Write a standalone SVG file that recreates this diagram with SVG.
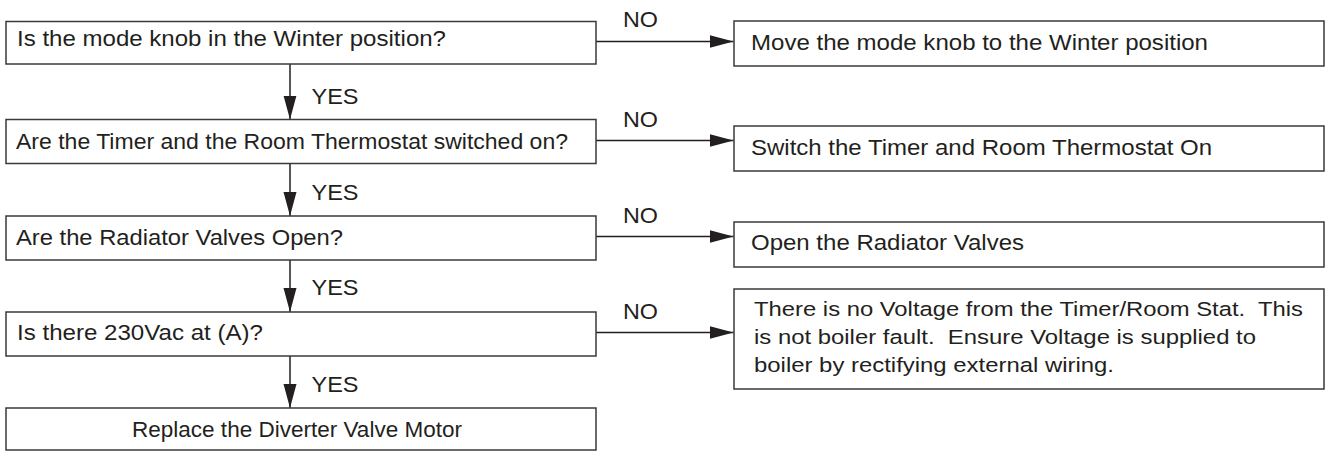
<svg xmlns="http://www.w3.org/2000/svg" width="1326" height="451" viewBox="0 0 1326 451">
  <style>
    .box { fill: #ffffff; stroke: #3a3a3a; stroke-width: 1.5; }
    .t { font-family: "Liberation Sans", Arial, sans-serif; font-size: 22px; fill: #231f20; }
    .t2 { font-family: "Liberation Sans", Arial, sans-serif; font-size: 20.5px; fill: #231f20; }
    .lbl { font-family: "Liberation Sans", Arial, sans-serif; font-size: 22px; fill: #231f20; }
    .conn { stroke: #231f20; stroke-width: 1.5; fill: none; marker-end: url(#arrow); }
  </style>
  <defs>
    <marker id="arrow" markerUnits="userSpaceOnUse" markerWidth="24" markerHeight="14" refX="24" refY="7" orient="auto">
      <path d="M0,0.5 L24,7 L0,13.5 z" fill="#231f20"/>
    </marker>
  </defs>
  <rect x="0" y="0" width="1326" height="451" fill="#ffffff"/>

  <g id="connectors">
    <line class="conn" x1="596" y1="41.5" x2="733.5" y2="41.5"/>
    <line class="conn" x1="596" y1="140.5" x2="733.5" y2="140.5"/>
    <line class="conn" x1="596" y1="236.5" x2="733.5" y2="236.5"/>
    <line class="conn" x1="596" y1="332.5" x2="733.5" y2="332.5"/>
    <line class="conn" x1="290" y1="64" x2="290" y2="119.5"/>
    <line class="conn" x1="290" y1="163.5" x2="290" y2="216"/>
    <line class="conn" x1="290" y1="260" x2="290" y2="312"/>
    <line class="conn" x1="290" y1="356" x2="290" y2="408"/>
    <text class="lbl" x="623" y="26.7" textLength="35" lengthAdjust="spacingAndGlyphs">NO</text>
    <text class="lbl" x="623" y="126.7" textLength="35" lengthAdjust="spacingAndGlyphs">NO</text>
    <text class="lbl" x="623" y="222.7" textLength="35" lengthAdjust="spacingAndGlyphs">NO</text>
    <text class="lbl" x="623" y="318.7" textLength="35" lengthAdjust="spacingAndGlyphs">NO</text>
    <text class="lbl" x="311.5" y="104" textLength="47" lengthAdjust="spacingAndGlyphs">YES</text>
    <text class="lbl" x="311.5" y="200" textLength="47" lengthAdjust="spacingAndGlyphs">YES</text>
    <text class="lbl" x="311.5" y="295" textLength="47" lengthAdjust="spacingAndGlyphs">YES</text>
    <text class="lbl" x="311.5" y="391.7" textLength="47" lengthAdjust="spacingAndGlyphs">YES</text>
  </g>

  <g id="q1">
    <rect class="box" x="6" y="21.5" width="590" height="42.5"/>
    <text class="t" x="17" y="46" textLength="429" lengthAdjust="spacingAndGlyphs">Is the mode knob in the Winter position?</text>
  </g>
  <g id="q2">
    <rect class="box" x="6" y="119.5" width="590" height="44"/>
    <text class="t" x="16" y="149.3" textLength="552" lengthAdjust="spacingAndGlyphs">Are the Timer and the Room Thermostat switched on?</text>
  </g>
  <g id="q3">
    <rect class="box" x="6" y="216" width="590" height="44"/>
    <text class="t" x="16" y="245" textLength="327" lengthAdjust="spacingAndGlyphs">Are the Radiator Valves Open?</text>
  </g>
  <g id="q4">
    <rect class="box" x="6" y="312" width="590" height="44"/>
    <text class="t" x="17" y="340" textLength="246" lengthAdjust="spacingAndGlyphs">Is there 230Vac at (A)?</text>
  </g>
  <g id="end">
    <rect class="box" x="6" y="408" width="590" height="42"/>
    <text class="t" x="132" y="436.7" textLength="330" lengthAdjust="spacingAndGlyphs">Replace the Diverter Valve Motor</text>
  </g>

  <g id="a1">
    <rect class="box" x="734" y="21" width="590" height="45"/>
    <text class="t" x="751" y="50" textLength="457" lengthAdjust="spacingAndGlyphs">Move the mode knob to the Winter position</text>
  </g>
  <g id="a2">
    <rect class="box" x="734" y="126" width="590" height="45"/>
    <text class="t" x="751" y="155" textLength="461" lengthAdjust="spacingAndGlyphs">Switch the Timer and Room Thermostat On</text>
  </g>
  <g id="a3">
    <rect class="box" x="734" y="222" width="590" height="45"/>
    <text class="t" x="751" y="250" textLength="273" lengthAdjust="spacingAndGlyphs">Open the Radiator Valves</text>
  </g>
  <g id="a4">
    <rect class="box" x="734" y="289" width="590" height="100"/>
    <text class="t2" x="754" y="316" textLength="549" lengthAdjust="spacingAndGlyphs" xml:space="preserve">There is no Voltage from the Timer/Room Stat.  This</text>
    <text class="t2" x="754" y="344" textLength="502" lengthAdjust="spacingAndGlyphs" xml:space="preserve">is not boiler fault.  Ensure Voltage is supplied to</text>
    <text class="t2" x="754" y="372" textLength="360" lengthAdjust="spacingAndGlyphs">boiler by rectifying external wiring.</text>
  </g>
</svg>
